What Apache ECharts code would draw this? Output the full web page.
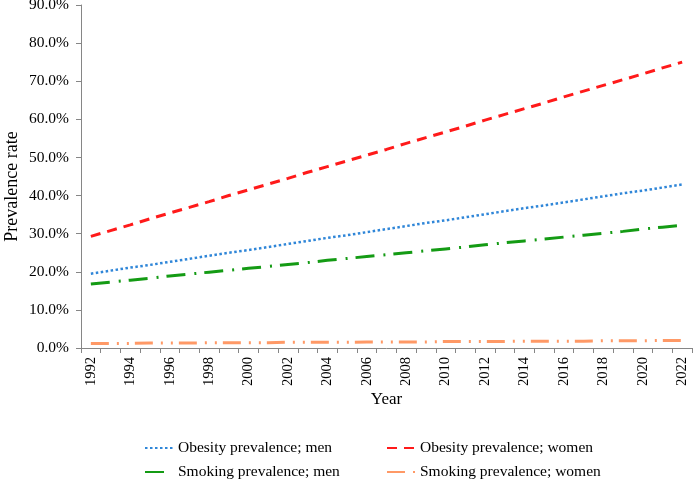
<!DOCTYPE html>
<html>
<head>
<meta charset="utf-8">
<script src="https://cdn.jsdelivr.net/npm/echarts@6/dist/echarts.min.js"></script>
<style>
  html, body { margin: 0; padding: 0; background: #fff; }
  #chart { width: 693px; height: 480px; }
</style>
</head>
<body>
<div id="chart"></div>
<script>
// years 1992..2022
const years = [];
for (let y = 1992; y <= 2022; y++) years.push(String(y));

// values (%)
const obesityMen = [19.5, 20.3, 21.1, 21.8, 22.6, 23.4, 24.2, 25.0, 25.7, 26.5, 27.3, 28.1, 28.9, 29.6, 30.4, 31.2,
  32.0, 32.8, 33.5, 34.3, 35.1, 35.9, 36.7, 37.4, 38.2, 39.0, 39.8, 40.6, 41.3, 42.1, 42.9];
const obesityWomen = [29.3, 30.8, 32.3, 33.9, 35.4, 36.9, 38.4, 40.0, 41.5, 43.0, 44.5, 46.1, 47.6, 49.1, 50.6, 52.1,
  53.7, 55.2, 56.7, 58.2, 59.8, 61.3, 62.8, 64.3, 65.9, 67.4, 68.9, 70.4, 71.9, 73.5, 75.0];
const smokingMen = [16.8, 17.3, 17.8, 18.3, 18.9, 19.4, 19.9, 20.4, 20.9, 21.4, 21.9, 22.4, 23.0, 23.5, 24.0, 24.5,
  25.0, 25.5, 26.0, 26.5, 27.1, 27.6, 28.1, 28.6, 29.1, 29.6, 30.1, 30.6, 31.2, 31.7, 32.2];
const smokingWomen = [1.2, 1.2, 1.2, 1.3, 1.3, 1.3, 1.4, 1.4, 1.4, 1.4, 1.5, 1.5, 1.5, 1.5, 1.6, 1.6,
  1.6, 1.6, 1.7, 1.7, 1.7, 1.7, 1.8, 1.8, 1.8, 1.8, 1.9, 1.9, 1.9, 2.0, 2.0];

const font = '"Liberation Serif", "Times New Roman", serif';
const axisGray = '#868686';

const chart = echarts.init(document.getElementById('chart'));

function line(name, data, color, type, width) {
  return {
    name: name,
    type: 'line',
    data: data,
    symbol: 'none',
    showSymbol: false,
    animation: false,
    lineStyle: { color: color, width: width, type: type, cap: 'butt' },
    itemStyle: { color: color }
  };
}

// one legend per entry so the 2x2 layout matches
function legendAt(name, left, top) {
  return {
    data: [name],
    left: left,
    top: top,
    padding: 0,
    itemWidth: 28,
    itemHeight: 14,
    itemStyle: { opacity: 0 },
    textStyle: { fontFamily: font, fontSize: 15.5, color: '#000' }
  };
}

chart.setOption({
  animation: false,
  grid: { left: 81, right: 1, top: 5, bottom: 132, containLabel: false, outerBoundsMode: 'none' },
  legend: [
    legendAt('Obesity prevalence; men', 144, 440),
    legendAt('Smoking prevalence; men', 144, 464),
    legendAt('Obesity prevalence; women', 386, 440),
    legendAt('Smoking prevalence; women', 386, 464)
  ],
  xAxis: {
    type: 'category',
    data: years,
    boundaryGap: true,
    name: 'Year',
    nameLocation: 'middle',
    nameGap: 43,
    nameMoveOverlap: false,
    nameTextStyle: { fontFamily: font, fontSize: 17, color: '#000' },
    axisLine: { lineStyle: { color: axisGray, width: 1 } },
    axisTick: { show: true, interval: 0, length: 5, lineStyle: { color: axisGray } },
    axisLabel: {
      interval: 1,
      rotate: 90,
      margin: 9,
      fontFamily: font,
      fontSize: 14.5,
      color: '#000'
    },
    splitLine: { show: false }
  },
  yAxis: {
    type: 'value',
    min: 0,
    max: 90,
    interval: 10,
    name: 'Prevalence rate',
    nameLocation: 'middle',
    nameGap: 60,
    nameMoveOverlap: false,
    nameTextStyle: { fontFamily: font, fontSize: 18, color: '#000', padding: [0, 20, 0, 0] },
    axisLine: { show: true, lineStyle: { color: axisGray, width: 1 } },
    axisTick: { show: true, length: 5, lineStyle: { color: axisGray } },
    axisLabel: {
      margin: 12,
      fontFamily: font,
      fontSize: 15.5,
      color: '#000',
      formatter: v => v.toFixed(1) + '%'
    },
    splitLine: { show: false }
  },
  series: [
    line('Obesity prevalence; men', obesityMen, '#2f86d8', [2.5, 2.5], 2.5),
    line('Obesity prevalence; women', obesityWomen, '#ff1a1a', [10, 7], 3),
    line('Smoking prevalence; men', smokingMen, '#149b14', [19, 9, 2, 8], 3),
    line('Smoking prevalence; women', smokingWomen, '#ff9966', [18, 8, 2, 8, 2, 6], 3)
  ]
});
</script>
</body>
</html>
